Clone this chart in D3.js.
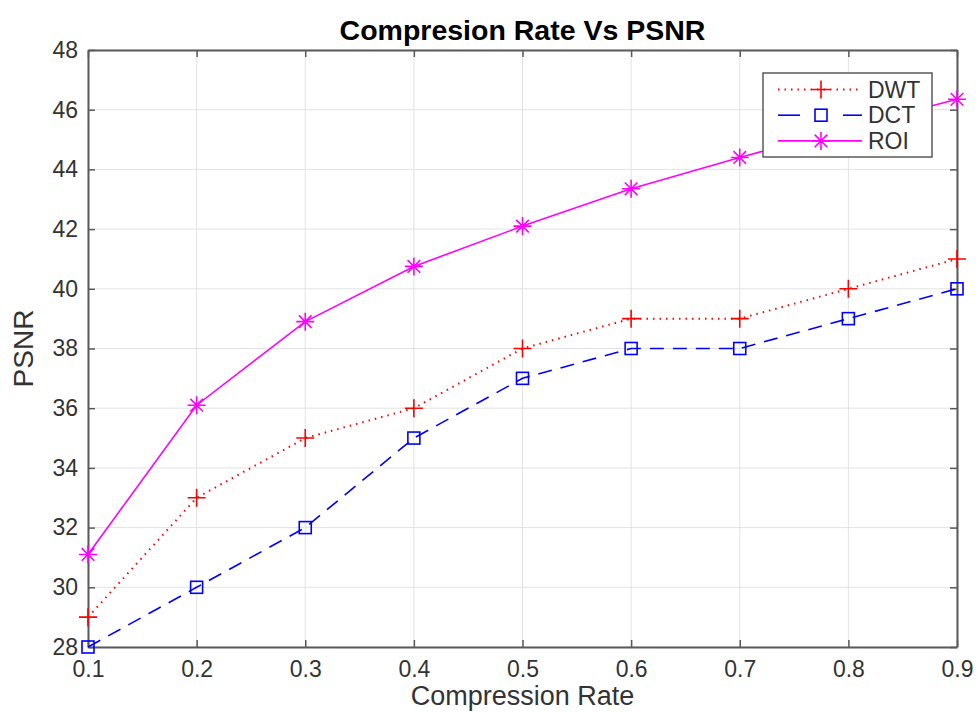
<!DOCTYPE html>
<html>
<head>
<meta charset="utf-8">
<script src="https://cdn.jsdelivr.net/npm/d3@7"></script>
<style>
body { margin: 0; background: #fff; }
svg { display: block; font-family: "Liberation Sans", Arial, sans-serif; }
</style>
</head>
<body>
<svg id="chart"></svg>
<script>
const rates = [0.1, 0.2, 0.3, 0.4, 0.5, 0.6, 0.7, 0.8, 0.9];
const dwt = [29, 33, 35, 36, 38, 39, 39, 40, 41];
const dct = [28, 30, 32, 35, 37, 38, 38, 39, 40];
const roi = [31.1, 36.1, 38.9, 40.75, 42.1, 43.35, 44.4, 45.4, 46.35];
const yTicks = [28, 30, 32, 34, 36, 38, 40, 42, 44, 46, 48];

const width = 979, height = 713;
const margin = {left: 88, right: 22, top: 50, bottom: 66};

const svg = d3.select('#chart').attr('width', width).attr('height', height);

const x = d3.scaleLinear().domain([0.1, 0.9]).range([margin.left, width - margin.right]);
const y = d3.scaleLinear().domain([28, 48]).range([height - margin.bottom, margin.top]);

const axisCol = '#5a5a5a';
const textCol = '#333';

// grid
svg.append('g').selectAll('line')
	.data(rates)
	.join('line')
		.attr('x1', d => x(d)).attr('x2', d => x(d))
		.attr('y1', y(28)).attr('y2', y(48))
		.attr('stroke', '#e3e3e3').attr('stroke-width', 1);
svg.append('g').selectAll('line')
	.data(yTicks)
	.join('line')
		.attr('y1', d => y(d)).attr('y2', d => y(d))
		.attr('x1', x(0.1)).attr('x2', x(0.9))
		.attr('stroke', '#e3e3e3').attr('stroke-width', 1);

// axes (MATLAB box with ticks on all four sides)
const fmtX = d3.format('.1f');
function styleAxis(g) {
	g.select('.domain').attr('stroke', axisCol).attr('stroke-width', 2);
	g.selectAll('.tick line').attr('stroke', axisCol).attr('stroke-width', 1.5);
	g.selectAll('.tick text').attr('fill', textCol).attr('font-size', 23)
		.attr('font-family', '"Liberation Sans", Arial, sans-serif');
}
svg.append('g')
	.attr('transform', `translate(0,${y(28)})`)
	.call(d3.axisBottom(x).tickValues(rates).tickFormat(fmtX).tickSizeInner(-7).tickSizeOuter(0).tickPadding(14))
	.call(styleAxis);
svg.append('g')
	.attr('transform', `translate(0,${y(48)})`)
	.call(d3.axisTop(x).tickValues(rates).tickFormat('').tickSizeInner(-7).tickSizeOuter(0))
	.call(styleAxis);
svg.append('g')
	.attr('transform', `translate(${x(0.1)},0)`)
	.call(d3.axisLeft(y).tickValues(yTicks).tickSizeInner(-7).tickSizeOuter(0).tickPadding(10))
	.call(styleAxis);
svg.append('g')
	.attr('transform', `translate(${x(0.9)},0)`)
	.call(d3.axisRight(y).tickValues(yTicks).tickFormat('').tickSizeInner(-7).tickSizeOuter(0))
	.call(styleAxis);

// series
const series = [
	{name: 'DWT', values: dwt, color: '#ff0000', dash: '1.5,5', marker: 'plus'},
	{name: 'DCT', values: dct, color: '#0000ff', dash: '14,9', marker: 'square'},
	{name: 'ROI', values: roi, color: '#ff00ff', dash: null, marker: 'star'}
];

const line = d3.line().x((d, i) => x(rates[i])).y(d => y(d));

function drawMarker(g, type, cx, cy, color) {
	const s = 9;
	if (type === 'plus') {
		g.append('path').attr('d', `M${cx - s},${cy}H${cx + s}M${cx},${cy - s}V${cy + s}`)
			.attr('stroke', color).attr('stroke-width', 1.6).attr('fill', 'none');
	} else if (type === 'square') {
		g.append('rect').attr('x', cx - 6).attr('y', cy - 6).attr('width', 12).attr('height', 12)
			.attr('stroke', color).attr('stroke-width', 1.6).attr('fill', 'none');
	} else {
		const a = s * 0.7;
		g.append('path').attr('d', `M${cx - s},${cy}H${cx + s}M${cx},${cy - s}V${cy + s}M${cx - a},${cy - a}L${cx + a},${cy + a}M${cx - a},${cy + a}L${cx + a},${cy - a}`)
			.attr('stroke', color).attr('stroke-width', 1.6).attr('fill', 'none');
	}
}

series.forEach(s => {
	svg.append('path')
		.datum(s.values)
		.attr('d', line)
		.attr('fill', 'none')
		.attr('stroke', s.color)
		.attr('stroke-width', s.name === 'DWT' ? 2 : 1.6)
		.attr('stroke-dasharray', s.dash);
	const g = svg.append('g');
	s.values.forEach((v, i) => drawMarker(g, s.marker, x(rates[i]), y(v), s.color));
});

// legend
const lg = svg.append('g').attr('transform', 'translate(763,73)');
lg.append('rect').attr('width', 169).attr('height', 84)
	.attr('fill', '#fff').attr('stroke', axisCol).attr('stroke-width', 1.5);
series.forEach((s, i) => {
	const cy = 16.5 + i * 25.7;
	if (s.name === 'DCT') {
		[[15, 37], [80, 99]].forEach(([a, b]) => {
			lg.append('line').attr('x1', a).attr('x2', b).attr('y1', cy).attr('y2', cy)
				.attr('stroke', s.color).attr('stroke-width', 1.6);
		});
	} else {
		lg.append('line').attr('x1', 15).attr('x2', 99).attr('y1', cy).attr('y2', cy)
			.attr('stroke', s.color).attr('stroke-width', s.name === 'DWT' ? 2 : 1.6)
			.attr('stroke-dasharray', s.dash);
	}
	drawMarker(lg, s.marker, 58, cy, s.color);
	lg.append('text').attr('x', 105).attr('y', cy + 8).text(s.name)
		.attr('font-size', 23).attr('fill', textCol);
});

// title and labels
svg.append('text').attr('x', (x(0.1) + x(0.9)) / 2).attr('y', 40)
	.attr('text-anchor', 'middle').attr('font-weight', 'bold').attr('font-size', 28.5)
	.attr('fill', '#000').text('Compresion Rate Vs PSNR');
svg.append('text').attr('x', (x(0.1) + x(0.9)) / 2).attr('y', 705)
	.attr('text-anchor', 'middle').attr('font-size', 27).attr('fill', textCol)
	.text('Compression Rate');
svg.append('text').attr('transform', `translate(33,${(y(28) + y(48)) / 2}) rotate(-90)`)
	.attr('text-anchor', 'middle').attr('font-size', 28).attr('fill', textCol)
	.text('PSNR');
</script>
</body>
</html>
